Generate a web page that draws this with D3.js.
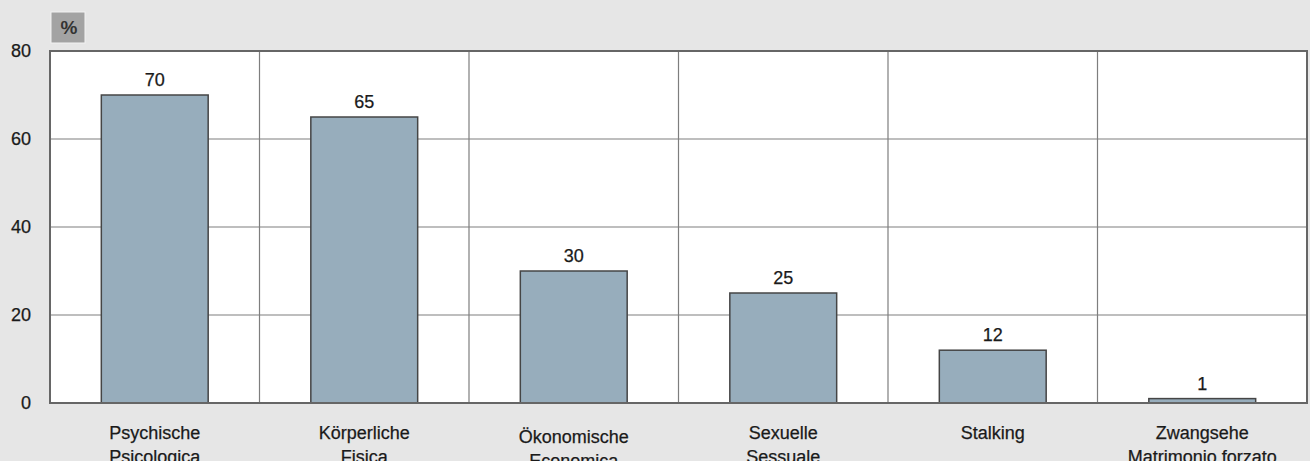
<!DOCTYPE html>
<html><head><meta charset="utf-8">
<script src="https://cdn.jsdelivr.net/npm/d3@7"></script>
<style>
html,body{margin:0;padding:0;background:#e6e6e6;}
svg{display:block;font-family:"Liberation Sans",Arial,sans-serif;}
</style></head>
<body><svg id="c" width="1310" height="461"></svg>
<script>
const categories = ["Psychische|Psicologica","Körperliche|Fisica","Ökonomische|Economica","Sexuelle|Sessuale","Stalking","Zwangsehe|Matrimonio forzato"];
const values = [70, 65, 30, 25, 12, 1];
const yTicks = [0, 20, 40, 60, 80];
const unitLabel = "%";

const svg = d3.select("#c");
const L = 50, R = 1307, T = 51, B = 403;
const y = d3.scaleLinear().domain([0, 80]).range([B, T]);
const xCat = d3.scaleBand().domain(categories).range([L, R]).padding(0);
const x = d3.scaleBand().domain(categories).range([L, R]).paddingInner(0.49).paddingOuter(0.245);

svg.append("rect").attr("width",1310).attr("height",461).attr("fill","#e6e6e6");
svg.append("rect").attr("x",L).attr("y",T).attr("width",R-L).attr("height",B-T).attr("fill","#ffffff");

// horizontal gridlines
svg.append("g").selectAll("line").data(yTicks.filter(t=>t>0 && t<80)).join("line")
  .attr("x1",L).attr("x2",R).attr("y1",d=>y(d)).attr("y2",d=>y(d))
  .attr("stroke","#7e7e7e").attr("stroke-width",1.2);
// vertical dividers
svg.append("g").selectAll("line").data(categories.slice(1)).join("line")
  .attr("x1",d=>xCat(d)).attr("x2",d=>xCat(d)).attr("y1",T).attr("y2",B)
  .attr("stroke","#7e7e7e").attr("stroke-width",1.2);

// bars
svg.append("g").selectAll("rect").data(categories).join("rect")
  .attr("x",d=>x(d)).attr("width",x.bandwidth())
  .attr("y",(d,i)=>y(values[i])).attr("height",(d,i)=>y(0)-y(values[i]))
  .attr("fill","#97adbc").attr("stroke","#454545").attr("stroke-width",1.5);

const txtStyle = s => s.attr("font-size",18).attr("fill","#1a1a1a").attr("stroke","#1a1a1a").attr("stroke-width",0.25);

// value labels
svg.append("g").selectAll("text").data(categories).join("text")
  .attr("x",d=>x(d)+x.bandwidth()/2).attr("y",(d,i)=>y(values[i])-9)
  .attr("text-anchor","middle").call(txtStyle)
  .text((d,i)=>values[i]);

// plot border
svg.append("rect").attr("x",L).attr("y",T).attr("width",R-L).attr("height",B-T)
  .attr("fill","none").attr("stroke","#666").attr("stroke-width",2);

// y axis labels
const yAxis = d3.axisLeft(y).tickValues(yTicks).tickSize(0).tickPadding(19);
const ga = svg.append("g").attr("transform",`translate(${L},0)`).call(yAxis);
ga.select(".domain").remove();
ga.selectAll("text").call(txtStyle).attr("font-family","Liberation Sans, Arial, sans-serif");

// x labels
const xl = svg.append("g").selectAll("text").data(categories).join("text")
  .attr("text-anchor","middle").call(txtStyle)
  .attr("transform",d=>`translate(${xCat(d)+xCat.bandwidth()/2},${439 + (d.startsWith("Ö")?4:0)})`);
xl.selectAll("tspan").data(d=>d.split("|")).join("tspan")
  .attr("x",0).attr("dy",(d,i)=>i===0?0:24).text(d=>d);

// unit box
svg.append("rect").attr("x",51).attr("y",12).attr("width",34).attr("height",31)
  .attr("fill","#a3a3a3").attr("stroke","#f2f2f2").attr("stroke-width",1);
svg.append("text").attr("x",69).attr("y",34).attr("text-anchor","middle")
  .attr("font-size",19).attr("font-weight","bold").attr("fill","#333").text(unitLabel);
</script></body></html>
